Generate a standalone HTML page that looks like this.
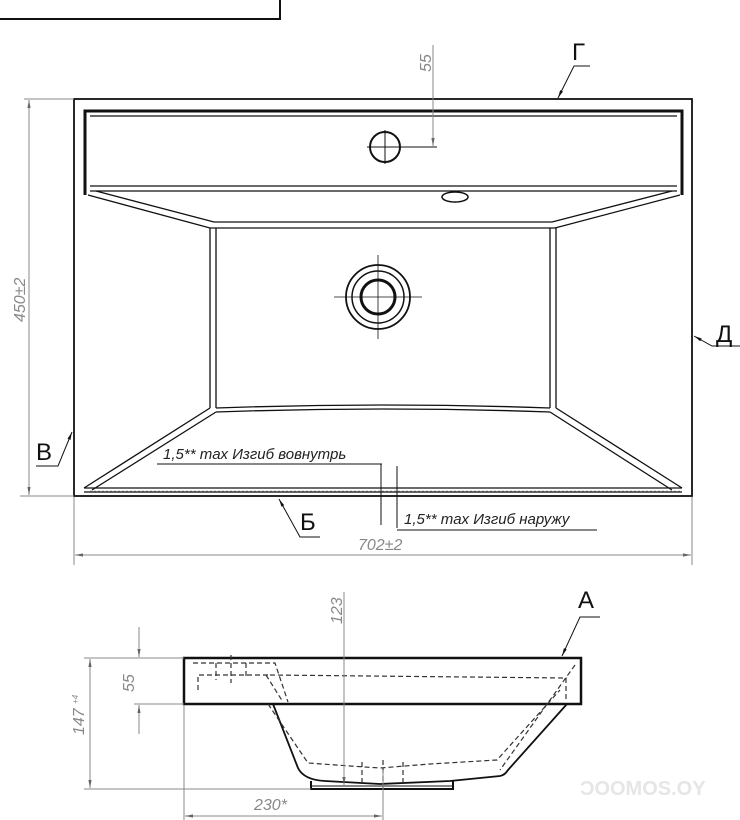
<!DOCTYPE html>
<html><head><meta charset="utf-8"><style>
html,body{margin:0;padding:0;background:#fff;width:740px;height:820px;overflow:hidden}
svg{display:block}
text{font-family:"Liberation Sans","DejaVu Sans",sans-serif}
.k{stroke:#111;fill:none}
.g{stroke:#888;fill:none;stroke-width:1}
.d{stroke:#333;fill:none;stroke-width:1.2;stroke-dasharray:5 3}
.gt{fill:#888;font-style:italic;font-size:16px}
.bt{fill:#222;font-style:italic;font-size:15px}
.L{fill:#111;font-size:24px}
</style></head><body>
<svg width="740" height="820" viewBox="0 0 740 820">
<defs>
<marker id="a" viewBox="0 0 10 10" refX="10" refY="5" markerWidth="8" markerHeight="8" orient="auto-start-reverse"><path d="M0,3 L10,5 L0,7z" fill="#666"/></marker>
<marker id="b" viewBox="0 0 10 10" refX="10" refY="5" markerWidth="8" markerHeight="8" orient="auto-start-reverse"><path d="M0,3 L10,5 L0,7z" fill="#111"/></marker>
</defs>
<polyline class="k" stroke-width="2" points="0,19 280,19 280,-2"/>
<rect class="k" stroke-width="1.8" x="74" y="99" width="618" height="397"/>
<path class="k" stroke-width="3" d="M85,195 L85,111 L682,111 L682,195"/>
<line class="k" stroke-width="1.3" x1="90" y1="116" x2="677" y2="116"/>
<path class="k" stroke-width="1.3" d="M90,186 L677,186 M90,191 L677,191"/>
<path class="k" stroke-width="1.3" d="M88,195 L210,228 L555,228 L680,195 M96,191 L214,222 L552,222 L672,191"/>
<path class="k" stroke-width="1.3" d="M210,228 L210,408 M216,228 L216,408 M550,228 L550,408 M556,228 L556,408"/>
<path class="k" stroke-width="1.3" d="M210,408 L84,488 M216,412 L92,490 M556,408 L682,488 M550,412 L672,490"/>
<path class="k" stroke-width="1.3" d="M216,408 Q383,402 550,408 M216,412 Q383,406 550,412"/>
<line class="k" stroke-width="1.3" x1="84" y1="488" x2="682" y2="488"/>
<line x1="90" y1="491" x2="680" y2="491" stroke="#bbb" stroke-dasharray="2 2"/>
<line class="k" stroke-width="1.3" x1="84" y1="492" x2="682" y2="492"/>
<circle class="k" stroke-width="2" cx="385" cy="147" r="15"/>
<path class="k" d="M367,147 L437,147 M385,130 L385,164"/>
<ellipse class="k" stroke-width="1.5" cx="455" cy="197" rx="13" ry="5"/>
<circle class="k" stroke-width="1.8" cx="378" cy="297" r="32"/>
<circle class="k" stroke-width="1.5" cx="378" cy="297" r="26"/>
<circle class="k" stroke-width="3" cx="378" cy="297" r="17"/>
<path class="k" stroke-width="0.8" d="M334,297 L422,297 M378,255 L378,339"/>
<line class="g" x1="433" y1="45" x2="433" y2="146" marker-end="url(#a)"/>
<text class="gt" transform="translate(431,72) rotate(-90)">55</text>
<text class="L" x="572" y="60">Г</text>
<polyline class="k" points="590,66 574,66 558,98" marker-end="url(#b)"/>
<text class="L" x="716" y="342">Д</text>
<polyline class="k" points="740,346 712,346 694,336" marker-end="url(#b)"/>
<text class="L" x="36" y="460">В</text>
<polyline class="k" points="36,466 58,466 72,432" marker-end="url(#b)"/>
<line class="g" x1="24" y1="99" x2="74" y2="99"/>
<line class="g" x1="20" y1="496" x2="74" y2="496"/>
<line class="g" x1="29" y1="100" x2="29" y2="495" marker-start="url(#a)" marker-end="url(#a)"/>
<text class="gt" transform="translate(25,322) rotate(-90)">450±2</text>
<line class="g" x1="74" y1="497" x2="74" y2="565"/>
<line class="g" x1="692" y1="497" x2="692" y2="565"/>
<line class="g" x1="75" y1="555" x2="691" y2="555" marker-start="url(#a)" marker-end="url(#a)"/>
<text class="gt" x="358" y="550">702±2</text>
<text class="L" x="300" y="530">Б</text>
<polyline class="k" points="320,537 300,537 279,499" marker-end="url(#b)"/>
<text class="bt" x="163" y="459">1,5** max Изгиб вовнутрь</text>
<line class="k" x1="157" y1="464" x2="382" y2="464"/>
<line class="k" x1="381" y1="464" x2="381" y2="525"/>
<line class="k" x1="397" y1="466" x2="397" y2="528"/>
<text class="bt" x="404" y="524">1,5** max Изгиб наружу</text>
<line class="k" x1="397" y1="530" x2="597" y2="530"/>
<rect class="k" stroke-width="2.5" x="184" y="658" width="397" height="46"/>
<path class="k" stroke-width="1.8" d="M273,704 L298,768 Q304,780 325,781 L380,784 L450,781 L500,776 Q505,775 508,770 L567,704"/>
<path class="k" stroke-width="2" d="M311,781 L311,789 L453,789 L453,781"/>
<path class="k" d="M311,786 L453,786"/>
<path class="d" d="M193,663 L275,663 L288,702 M198,690 L198,675 L270,675 M270,675 L566,678 L566,700 M266,675 L283,702 M575,665 L500,770"/>
<path class="d" d="M268,704 L308,763 L350,766 L380,768 L430,764 L497,760 L560,690"/>
<path class="d" d="M216,663 L216,680 M231,655 L231,683 M246,663 L246,676 M362,762 L362,784 M403,762 L403,784 M383,760 L383,788"/>
<line class="g" x1="84" y1="658" x2="184" y2="658"/>
<line class="g" x1="84" y1="789" x2="311" y2="789"/>
<line class="g" x1="90" y1="659" x2="90" y2="788" marker-start="url(#a)" marker-end="url(#a)"/>
<text class="gt" transform="translate(84,735) rotate(-90)">147 <tspan font-size="8" dy="-6">+4</tspan></text>
<line class="g" x1="134" y1="704" x2="184" y2="704"/>
<line class="g" x1="139" y1="627" x2="139" y2="657" marker-end="url(#a)"/>
<line class="g" x1="139" y1="734" x2="139" y2="705" marker-end="url(#a)"/>
<text class="gt" transform="translate(134,692) rotate(-90)">55</text>
<line class="g" x1="344" y1="592" x2="344" y2="785" marker-end="url(#a)"/>
<text class="gt" transform="translate(342,624) rotate(-90)">123</text>
<line class="g" x1="184" y1="705" x2="184" y2="820"/>
<line class="g" x1="383" y1="770" x2="383" y2="820"/>
<line class="g" x1="185" y1="816" x2="382" y2="816" marker-start="url(#a)" marker-end="url(#a)"/>
<text class="gt" x="254" y="810">230*</text>
<text class="L" x="578" y="608">А</text>
<polyline class="k" points="600,617 580,617 562,656" marker-end="url(#b)"/>
<text x="580" y="795" fill="#e6e6e6" font-size="20" font-weight="bold">ƆOOMOS.OY</text>
</svg>
</body></html>
